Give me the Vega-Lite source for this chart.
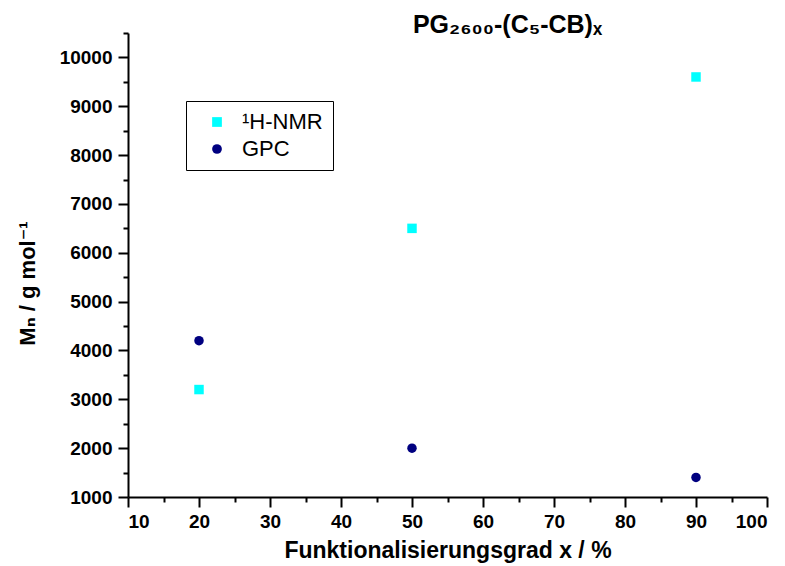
{
  "$schema": "https://vega.github.io/schema/vega-lite/v6.json",
  "width": 639,
  "height": 464,
  "autosize": "none",
  "padding": {"left": 128, "top": 33, "right": 18, "bottom": 69},
  "background": "white",
  "config": {"view": {"stroke": null}, "font": "Liberation Sans"},
  "title": {"text": "PG₂₆₀₀-(C₅-CB)ₓ", "font": "Liberation Sans, DejaVu Sans", "fontSize": 25, "fontWeight": "bold", "anchor": "middle", "dx": 60, "offset": -6, "color": "black"},
  "data": {"values": [
    {"x": 20, "Mn": 3200, "method": "¹H-NMR"},
    {"x": 50, "Mn": 6500, "method": "¹H-NMR"},
    {"x": 90, "Mn": 9600, "method": "¹H-NMR"},
    {"x": 20, "Mn": 4200, "method": "GPC"},
    {"x": 50, "Mn": 2000, "method": "GPC"},
    {"x": 90, "Mn": 1400, "method": "GPC"}
  ]},
  "layer": [
    {
      "mark": {"type": "point", "filled": true, "opacity": 1, "strokeWidth": 0},
      "encoding": {
        "x": {"field": "x", "type": "quantitative", "scale": {"domain": [10, 100], "nice": false, "zero": false},
          "axis": {"orient": "bottom", "values": [10,20,30,40,50,60,70,80,90,100], "title": "Funktionalisierungsgrad x / %", "grid": false,
            "domainColor": "black", "domainWidth": 2, "tickColor": "black", "tickWidth": 2, "tickSize": 10,
            "labelFont": "Liberation Sans", "labelFontSize": 19, "labelFontWeight": "bold", "labelColor": "black", "labelPadding": 5,
            "titleFont": "Liberation Sans", "titleFontSize": 23, "titleFontWeight": "bold", "titleColor": "black", "titlePadding": 8}},
        "y": {"field": "Mn", "type": "quantitative", "scale": {"domain": [1000, 10500], "nice": false, "zero": false},
          "axis": {"orient": "left", "values": [1000,2000,3000,4000,5000,6000,7000,8000,9000,10000], "title": "Mₙ / g mol⁻¹", "grid": false, "format": "d",
            "domainColor": "black", "domainWidth": 2, "tickColor": "black", "tickWidth": 2, "tickSize": 10,
            "labelFont": "Liberation Sans", "labelFontSize": 19, "labelFontWeight": "bold", "labelColor": "black", "labelPadding": 6,
            "titleFont": "Liberation Sans, DejaVu Sans", "titleFontSize": 22, "titleFontWeight": "bold", "titleColor": "black", "titlePadding": 20, "titleY": 250}},
        "color": {"field": "method", "type": "nominal", "scale": {"domain": ["¹H-NMR", "GPC"], "range": ["#00FFFF", "#000080"]},
          "legend": {"orient": "none", "legendX": 58, "legendY": 68, "title": null, "strokeColor": "black", "fillColor": "white", "padding": 10,
            "labelFont": "Liberation Sans", "labelFontSize": 22, "labelColor": "black", "symbolSize": 95, "symbolOffset": 10, "labelOffset": 14, "rowPadding": 5, "symbolStrokeWidth": 0}},
        "shape": {"field": "method", "type": "nominal", "scale": {"domain": ["¹H-NMR", "GPC"], "range": ["square", "circle"]}},
        "size": {"value": 90}
      }
    },
    {
      "mark": {"type": "point", "opacity": 0},
      "encoding": {
        "x": {"field": "x", "type": "quantitative",
          "axis": {"orient": "bottom", "values": [15,25,35,45,55,65,75,85,95], "labels": false, "title": null, "domain": false, "grid": false, "tickColor": "black", "tickWidth": 2, "tickSize": 5}},
        "y": {"field": "Mn", "type": "quantitative",
          "axis": {"orient": "left", "values": [1500,2500,3500,4500,5500,6500,7500,8500,9500,10500], "labels": false, "title": null, "domain": false, "grid": false, "tickColor": "black", "tickWidth": 2, "tickSize": 5}}
      }
    }
  ],
  "resolve": {"axis": {"x": "independent", "y": "independent"}}
}
